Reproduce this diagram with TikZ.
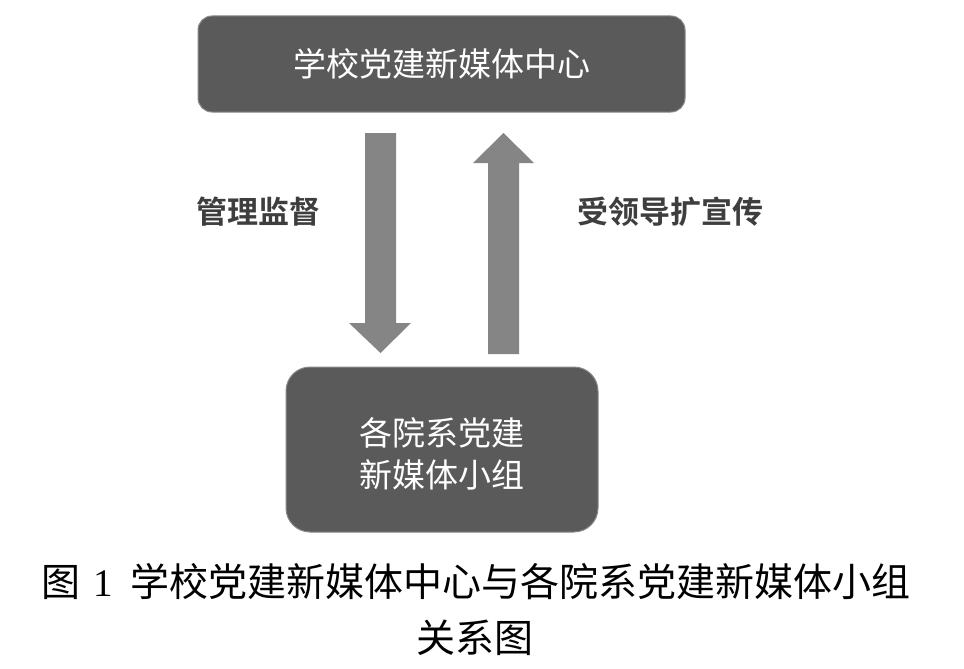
\documentclass[tikz,border=0pt]{standalone}
\usepackage{fontspec}
\newfontfamily\cjk{Noto Sans CJK SC}
\newfontfamily\cjkb{Noto Sans CJK SC Bold}
\newfontfamily\serifnum{Liberation Serif}
\definecolor{boxfill}{HTML}{5A5A5A}
\definecolor{boxline}{HTML}{8A8A8A}
\definecolor{arrowfill}{HTML}{858585}
\definecolor{labelcol}{HTML}{3E3E3E}
\tikzset{
  darkbox/.style={draw=boxline, line width=1pt, fill=boxfill},
  boxtext/.style={text=white, font=\cjk\fontsize{33}{42}\selectfont, align=center},
  bigarrow/.style={fill=arrowfill, draw=none},
  sidelabel/.style={text=labelcol, font=\cjkb\fontsize{31}{36}\selectfont, inner sep=0pt},
  captext/.style={text=black, font=\cjk\fontsize{39}{48}\selectfont, inner sep=0pt}
}
\begin{document}
\begin{tikzpicture}[x=1pt,y=-1pt]
\useasboundingbox[fill=white] (0,0) rectangle (964,669);
% boxes
\draw[darkbox, rounded corners=14pt] (198,16) rectangle (685,112);
\node[boxtext] (top) at (441.5,64) {学校党建新媒体中心};
\draw[darkbox, rounded corners=24pt] (286,367) rectangle (598,532);
\node[boxtext] (bottom) at (442,454) {各院系党建\\新媒体小组};
% down arrow
\fill[bigarrow] (365,133) -- (396,133) -- (396,323) -- (411,323) -- (380.5,353) -- (349,323) -- (365,323) -- cycle;
% up arrow
\fill[bigarrow] (488,354) -- (519,354) -- (519,163) -- (534,163) -- (503.5,133) -- (473,163) -- (488,163) -- cycle;
% labels
\node[sidelabel] (l1) at (258,212) {管理监督};
\node[sidelabel] (l2) at (670,212) {受领导扩宣传};
% caption
\node[captext] (cap1) at (476,582) {图\hspace{0.35em}{\serifnum 1}\hspace{0.45em}学校党建新媒体中心与各院系党建新媒体小组};
\node[captext] (cap2) at (475,638) {关系图};
\end{tikzpicture}
\end{document}
